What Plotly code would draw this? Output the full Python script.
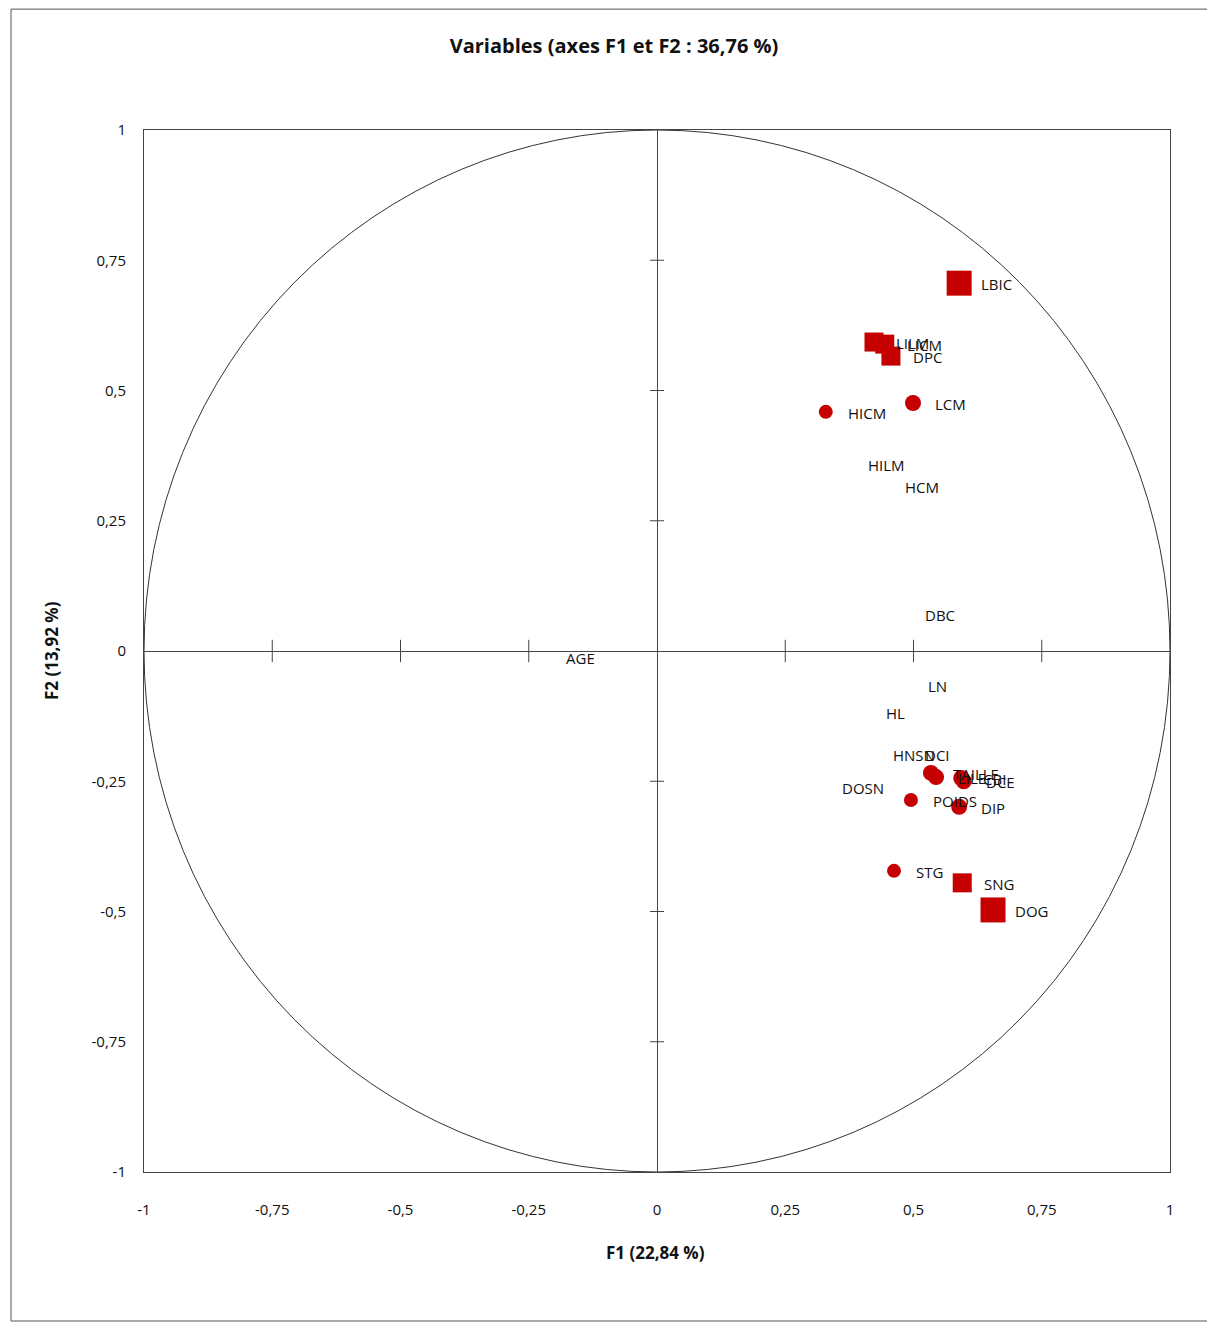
import plotly.graph_objects as go

# ---- data ----
labels = ["LBIC", "LILM", "LICM", "DPC", "HICM", "LCM", "HILM", "HCM", "DBC", "AGE",
          "LN", "HL", "HNSN", "DCI", "DOSN", "TAILLE", "LILE", "CBI", "DCE", "POIDS",
          "DIP", "STG", "SNG", "DOG"]
f1 = [0.589, 0.423, 0.444, 0.456, 0.329, 0.499, 0.368, 0.441, 0.480, -0.220,
      0.485, 0.404, 0.417, 0.480, 0.318, 0.534, 0.544, 0.593, 0.598, 0.495,
      0.589, 0.462, 0.595, 0.655]
f2 = [0.706, 0.593, 0.589, 0.566, 0.459, 0.476, 0.359, 0.317, 0.071, -0.012,
      -0.065, -0.117, -0.198, -0.198, -0.261, -0.234, -0.242, -0.244, -0.250, -0.286,
      -0.299, -0.422, -0.445, -0.497]
# marker kind: "sq_big", "sq", "circ_big", "circ", or "" (no marker)
kind = ["sq_big", "sq", "sq", "sq", "circ", "circ_big", "", "", "", "",
        "", "", "", "", "", "circ_big", "circ_big", "circ_big", "circ_big", "circ",
        "circ_big", "circ", "sq", "sq_big"]

tick_vals = [-1, -0.75, -0.5, -0.25, 0, 0.25, 0.5, 0.75, 1]
tick_text = ["-1", "-0,75", "-0,5", "-0,25", "0", "0,25", "0,5", "0,75", "1"]
inner_ticks = [-0.75, -0.5, -0.25, 0.25, 0.5, 0.75]

title = "Variables (axes F1 et F2 : 36,76 %)"
xtitle = "F1 (22,84 %)"
ytitle = "F2 (13,92 %)"

# ---- styles ----
RED = "#C40000"
FONT = "Open Sans, Lato, sans-serif"
style = {"sq_big": ("square", 25), "sq": ("square", 19),
         "circ_big": ("circle", 16), "circ": ("circle", 14)}

fig = go.Figure()

# unit circle
fig.add_shape(type="circle", xref="x", yref="y", x0=-1, y0=-1, x1=1, y1=1,
              line=dict(color="#333333", width=1), layer="below")

# small tick marks on the central axes
fig.add_trace(go.Scatter(x=inner_ticks, y=[0] * len(inner_ticks), mode="markers",
                         marker=dict(symbol="line-ns-open", size=16, color="#444444",
                                     line=dict(color="#444444", width=1)),
                         hoverinfo="skip", showlegend=False))
fig.add_trace(go.Scatter(x=[0] * len(inner_ticks), y=inner_ticks, mode="markers",
                         marker=dict(symbol="line-ew-open", size=10, color="#444444",
                                     line=dict(color="#444444", width=1)),
                         hoverinfo="skip", showlegend=False))

for k, (sym, sz) in style.items():
    xs = [x for x, kk in zip(f1, kind) if kk == k]
    ys = [y for y, kk in zip(f2, kind) if kk == k]
    fig.add_trace(go.Scatter(x=xs, y=ys, mode="markers",
                             marker=dict(symbol=sym, size=sz, color=RED,
                                         line=dict(width=0)),
                             showlegend=False))

for lab, x, y in zip(labels, f1, f2):
    fig.add_annotation(x=x, y=y, xref="x", yref="y", text=lab, showarrow=False,
                       xanchor="left", yanchor="middle", xshift=20, yshift=-1,
                       font=dict(family=FONT, size=15, color="#111111"))

axis_common = dict(range=[-1, 1], tickvals=tick_vals, ticktext=tick_text,
                   showgrid=False, zeroline=True, zerolinecolor="#444444",
                   zerolinewidth=1, showline=True, mirror=True,
                   linecolor="#444444", linewidth=1, ticks="",
                   tickfont=dict(family=FONT, size=15, color="#111111"))

fig.update_layout(
    width=1215, height=1325,
    margin=dict(l=136, r=53, t=122, b=161),
    paper_bgcolor="white", plot_bgcolor="white",
    xaxis=dict(**axis_common, ticklabelstandoff=24),
    yaxis=dict(**axis_common, ticklabelstandoff=14),
    title=dict(text="<b>" + title + "</b>", x=(613 - 143) / 1026, xref="paper",
               xanchor="center", y=1 - 38 / 1325, yref="container", yanchor="middle",
               font=dict(family=FONT, size=20, color="#111111")),
)

fig.add_annotation(x=0.499, y=-0.0777, xref="paper", yref="paper",
                   xanchor="center", yanchor="middle",
                   text="<b>" + xtitle + "</b>", showarrow=False,
                   font=dict(family=FONT, size=17, color="#111111"))
fig.add_annotation(x=-0.0906, y=0.5, xref="paper", yref="paper", textangle=-90,
                   xanchor="center", yanchor="middle",
                   text="<b>" + ytitle + "</b>", showarrow=False,
                   font=dict(family=FONT, size=17, color="#111111"))

# outer frame of the chart
fig.add_shape(type="rect", xref="paper", yref="paper",
              x0=-0.1296, x1=1.037, y0=-0.143, y1=1.116,
              line=dict(color="#555555", width=1))

fig.write_html("out.html")
